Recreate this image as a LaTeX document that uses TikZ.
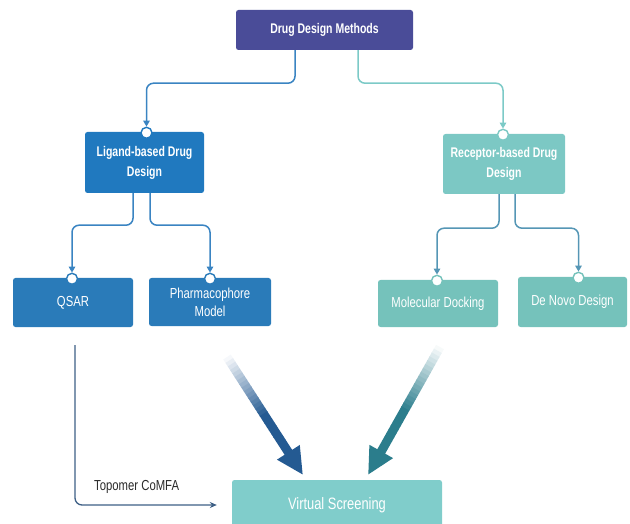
\documentclass[tikz,border=0pt]{standalone}
\usepackage{fontspec}
\setmainfont{Liberation Sans}[FakeStretch=0.78]
\newfontfamily\headfam{Liberation Sans}[FakeStretch=0.75]
\usetikzlibrary{arrows.meta,calc}
\definecolor{cTop}{HTML}{4A4C98}
\definecolor{cLigBox}{HTML}{2079BF}
\definecolor{cLigSub}{HTML}{2A7BB9}
\definecolor{cRecBox}{HTML}{7CC8C4}
\definecolor{cRecSub}{HTML}{75C2BB}
\definecolor{cVS}{HTML}{80CDCB}
\definecolor{cLigLine}{HTML}{3A84C2}
\definecolor{cTealLine}{HTML}{7CCAC7}
\definecolor{cRecLine}{HTML}{5596B5}
\definecolor{cTopo}{HTML}{3D5F85}
\definecolor{aL}{HTML}{245A92}
\definecolor{aR}{HTML}{2B7D8C}
\definecolor{txtDark}{HTML}{2A2A2A}
\begin{document}
\begin{tikzpicture}[x=1pt,y=-1pt,
  box/.style={rectangle, rounded corners=2.5pt, inner sep=0pt, align=center, text=white},
  headfont/.style={font=\headfam\fontsize{14}{20}\selectfont\bfseries},
  subfont/.style={font=\fontsize{14.5}{18}\selectfont},
  port/.style={circle, draw=#1, fill=white, line width=1.4pt, minimum size=11pt, inner sep=0pt},
  conn/.style={line width=1.5pt, rounded corners=7pt, -{Triangle[length=6pt,width=6.5pt]}},
]
\useasboundingbox (0,0) rectangle (630,524);

% boxes
\node[box, headfont, fill=cTop, minimum width=177pt, minimum height=40pt] (top) at (324.5,30) {Drug Design Methods};
\node[box, headfont, fill=cLigBox, minimum width=119pt, minimum height=61pt] (lig) at (144.5,162.5) {Ligand-based Drug\\Design};
\node[box, headfont, fill=cRecBox, minimum width=122pt, minimum height=60pt] (rec) at (504,164) {Receptor-based Drug\\Design};
\node[box, subfont, fill=cLigSub, minimum width=120pt, minimum height=49pt] (qsar) at (73,302.5) {QSAR};
\node[box, subfont, fill=cLigSub, minimum width=122pt, minimum height=48pt] (phar) at (210,302) {Pharmacophore\\Model};
\node[box, subfont, fill=cRecSub, minimum width=120pt, minimum height=47pt] (dock) at (438,303.5) {Molecular Docking};
\node[box, subfont, fill=cRecSub, minimum width=109pt, minimum height=50pt] (den) at (572.5,302) {De Novo Design};
\node[box, font=\fontsize{16.5}{18}\selectfont, fill=cVS, minimum width=210pt, minimum height=50pt] (vs) at (337,505) {Virtual Screening};

% ports
\node[port=cLigBox] (ligp) at ([xshift=2pt,yshift=-1pt]lig.north) {};
\node[port=cRecBox] (recp) at ([xshift=-1pt,yshift=-1pt]rec.north) {};
\node[port=cLigSub] (qsarp) at ([xshift=-1pt,yshift=-1pt]qsar.north) {};
\node[port=cLigSub] (pharp) at ([yshift=-1pt]phar.north) {};
\node[port=cRecSub] (dockp) at ([xshift=-1pt,yshift=-1pt]dock.north) {};
\node[port=cRecSub] (denp) at ([xshift=6pt,yshift=-1pt]den.north) {};

% connectors
\draw[conn, cLigLine] ([xshift=-29.5pt]top.south) -- ++(0,33) -| (ligp.north);
\draw[conn, cTealLine] ([xshift=33.5pt]top.south) -- ++(0,33) -| (recp.north);
\draw[conn, cLigLine] ([xshift=-11.5pt]lig.south) -- ++(0,32) -| (qsarp.north);
\draw[conn, cLigLine] ([xshift=5.5pt]lig.south) -- ++(0,32) -| (pharp.north);
\draw[conn, cRecLine] ([xshift=-5pt]rec.south) -- ++(0,34) -| (dockp.north);
\draw[conn, cRecLine] ([xshift=11pt]rec.south) -- ++(0,34) -| (denp.north);

% Topomer CoMFA
\draw[cTopo, line width=1.3pt, rounded corners=7pt, shorten <=18pt, shorten >=15pt,
  -{Stealth[length=7pt,width=6pt]}] ([xshift=2pt]qsar.south) |- (vs.west);
\node[font=\fontsize{14.5}{15}\selectfont, text=txtDark, anchor=west, inner sep=0pt] (topo) at (94,487) {Topomer CoMFA};

% big gradient arrows
\coordinate (a1s) at (227,357);
\coordinate (a1e) at (303,475);
\coordinate (a2s) at (440,347);
\coordinate (a2e) at (368,475);
\foreach \i in {0,...,23}{
  \pgfmathsetmacro\ta{\i*0.03}
  \pgfmathsetmacro\tb{\i*0.03+0.034}
  \pgfmathtruncatemacro\pc{min(100,4+\i*6)}
  \draw[line width=9pt, aL!\pc!white] ($(a1s)!\ta!(a1e)$) -- ($(a1s)!\tb!(a1e)$);
  \draw[line width=9pt, aR!\pc!white] ($(a2s)!\ta!(a2e)$) -- ($(a2s)!\tb!(a2e)$);
}
\draw[line width=9pt, aL, -{Triangle[length=27pt,width=25pt]}] ($(a1s)!0.72!(a1e)$) -- (a1e);
\draw[line width=9pt, aR, -{Triangle[length=27pt,width=25pt]}] ($(a2s)!0.72!(a2e)$) -- (a2e);
\end{tikzpicture}
\end{document}
